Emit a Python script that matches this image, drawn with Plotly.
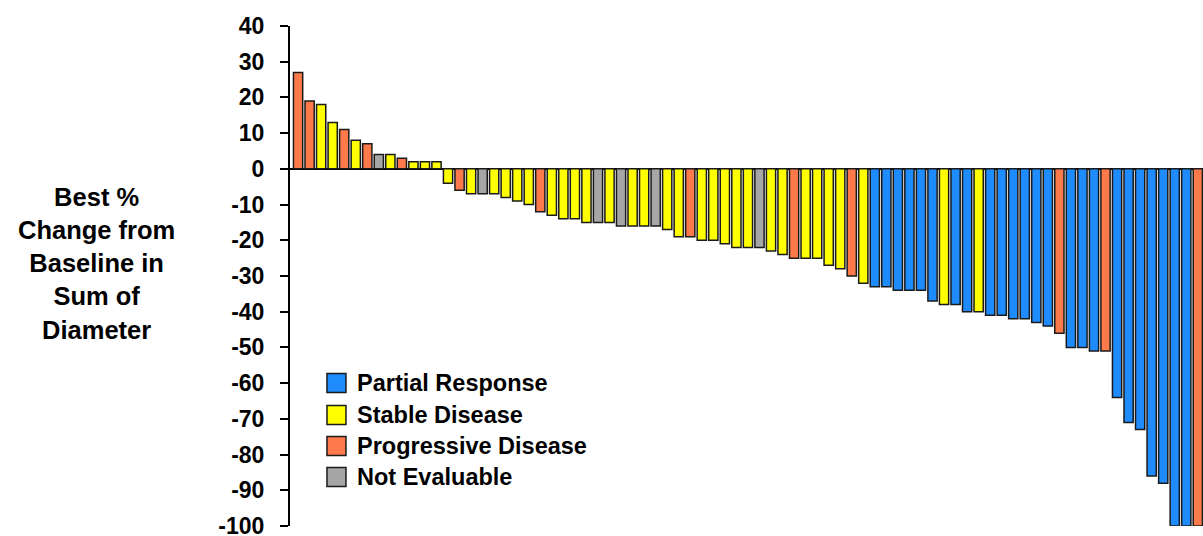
import plotly.graph_objects as go

# ---- data ----
responses = ["PD", "PD", "SD", "SD", "PD", "SD", "PD", "NE", "SD", "PD",
             "SD", "SD", "SD", "SD", "PD", "SD", "NE", "SD", "SD", "SD",
             "SD", "PD", "SD", "SD", "SD", "SD", "NE", "SD", "NE", "SD",
             "SD", "NE", "SD", "SD", "PD", "SD", "SD", "SD", "SD", "SD",
             "NE", "SD", "SD", "PD", "SD", "SD", "SD", "SD", "PD", "SD",
             "PR", "PR", "PR", "PR", "PR", "PR", "SD", "PR", "PR", "SD",
             "PR", "PR", "PR", "PR", "PR", "PR", "PD", "PR", "PR", "PR",
             "PD", "PR", "PR", "PR", "PR", "PR", "PR", "PR", "PD"]
pct_change = [27, 19, 18, 13, 11, 8, 7, 4, 4, 3,
              2, 2, 2, -4, -6, -7, -7, -7, -8, -9,
              -10, -12, -13, -14, -14, -15, -15, -15, -16, -16,
              -16, -16, -17, -19, -19, -20, -20, -21, -22, -22,
              -22, -23, -24, -25, -25, -25, -27, -28, -30, -32,
              -33, -33, -34, -34, -34, -37, -38, -38, -40, -40,
              -41, -41, -42, -42, -43, -44, -46, -50, -50, -51,
              -51, -64, -71, -73, -86, -88, -100, -100, -100]
patients = list(range(1, len(pct_change) + 1))

categories = ["PR", "SD", "PD", "NE"]
category_labels = ["Partial Response", "Stable Disease", "Progressive Disease", "Not Evaluable"]
category_colors = ["#1E8CFF", "#FFFF00", "#FF7A4A", "#A6A6A6"]
y_ticks = list(range(-100, 41, 10))
y_tick_text = [str(v) for v in y_ticks]  # plain hyphen minus, as in the reference

# ---- figure ----
fig = go.Figure()
for cat, label, color in zip(categories, category_labels, category_colors):
    xs = [p for p, r in zip(patients, responses) if r == cat]
    ys = [v for v, r in zip(pct_change, responses) if r == cat]
    fig.add_trace(go.Bar(
        x=xs, y=ys, name=label, width=0.8,
        marker=dict(color=color, line=dict(color="#1a1a1a", width=1.5)),
        showlegend=False,
    ))

FONT = "Liberation Sans, Arial, sans-serif"

# plot area in pixels: x 290..1203, y 26..526
# manual legend (large square swatches like the reference)
legend_rows_y = [0.286, 0.222, 0.160, 0.098]
for label, color, yc in zip(category_labels, category_colors, legend_rows_y):
    fig.add_shape(type="rect", xref="paper", yref="paper",
                  x0=0.0405, x1=0.0613, y0=yc - 0.019, y1=yc + 0.019,
                  fillcolor=color, line=dict(color="#1a1a1a", width=1.5))
    fig.add_annotation(xref="paper", yref="paper", x=0.0712, y=yc,
                       xanchor="left", yanchor="middle", showarrow=False,
                       text=label, font=dict(family=FONT, size=23.5, color="black", weight="bold"))

# y-axis title
fig.add_annotation(xref="paper", yref="paper", x=-0.2115, y=0.526,
                   xanchor="center", yanchor="middle", showarrow=False, align="center",
                   text="Best %<br>Change from<br>Baseline in<br>Sum of<br>Diameter",
                   font=dict(family=FONT, size=25.5, color="black", weight="bold"))

fig.update_layout(
    width=1203, height=536,
    margin=dict(l=290, r=0, t=26, b=10),
    plot_bgcolor="white", paper_bgcolor="white",
    barmode="overlay",
    font=dict(family=FONT, color="black"),
    xaxis=dict(visible=False, range=[0.3, 79.45], automargin=False),
    yaxis=dict(range=[-100, 40], tickvals=y_ticks, ticktext=y_tick_text,
               automargin=False,
               ticks="outside", ticklen=8,
               tickwidth=2, tickcolor="black", showline=True, linecolor="black",
               linewidth=2, showgrid=False, zeroline=True, zerolinecolor="black",
               zerolinewidth=2, ticklabelstandoff=11, ticklabeloverflow="allow",
               tickfont=dict(family=FONT, size=23, color="black", weight="bold")),
)

fig.write_html("out.html")
